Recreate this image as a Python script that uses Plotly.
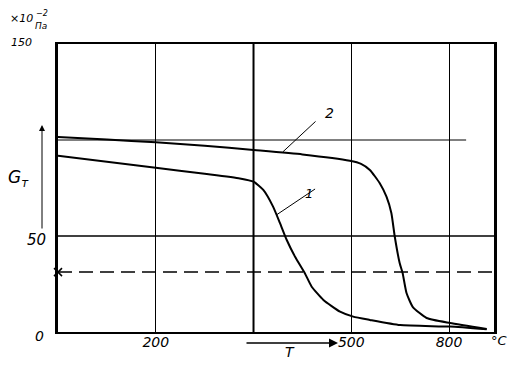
import plotly.graph_objects as go

# ---- data ----
T_curve1 = [0, 200, 300, 372, 400, 420, 440, 454, 468, 485, 505, 519, 543, 577, 604, 638, 700, 802, 877]
G_curve1 = [91.8, 85.6, 82.4, 80.0, 78.3, 74.0, 65.3, 56.8, 47.9, 39.2, 30.6, 23.6, 16.7, 10.6, 8.0, 6.3, 3.6, 2.8, 1.4]

T_curve2 = [0, 100, 200, 300, 400, 500, 597, 620, 638, 658, 672, 682, 689, 699, 705, 713, 726, 754, 802, 877]
G_curve2 = [101.6, 100.2, 98.8, 97.0, 94.8, 92.5, 89.2, 87.6, 84.4, 77.6, 70.5, 62.0, 49.6, 35.9, 30.7, 20.3, 13.0, 7.3, 4.7, 1.6]

dashed_level = 31.2
x_tick_vals = [200, 600, 800]
x_tick_text = ["200", "500", "800"]
curve_labels = ["1", "2"]

# ---- geometry helpers (screen pixel -> paper); page body has an 8px margin ----
W, H = 518, 365
OFF = 8
L, R, TOP, BOT = 58, 24, 44, 33
PW, PH = W - L - R, H - TOP - BOT


def pp(x, y):
    return (x - L) / PW, (H - BOT - y) / PH


FONT = "DejaVu Sans"
fig = go.Figure()

# dashed reference line
fig.add_trace(go.Scatter(x=[0, 892], y=[dashed_level, dashed_level], mode="lines",
                         line=dict(color="black", width=1.5, dash="14px,7px"),
                         hoverinfo="skip", showlegend=False))
fig.add_trace(go.Scatter(x=[0], y=[dashed_level], mode="markers",
                         marker=dict(symbol="x-thin", size=8, line=dict(color="black", width=1.5)),
                         hoverinfo="skip", showlegend=False, cliponaxis=False))

for T, G in ((T_curve1, G_curve1), (T_curve2, G_curve2)):
    fig.add_trace(go.Scatter(x=T, y=G, mode="lines",
                             line=dict(color="black", width=2, shape="spline", smoothing=0.5),
                             hoverinfo="skip", showlegend=False))

shapes = [
    dict(type="line", xref="x", yref="y", x0=0, x1=835, y0=100, y1=100, line=dict(color="black", width=1)),
    dict(type="line", xref="x", yref="y", x0=0, x1=892, y0=50, y1=50, line=dict(color="black", width=1.5)),
    dict(type="line", xref="x", yref="y", x0=400, x1=400, y0=0, y1=150, line=dict(color="black", width=2)),
]

annotations = []


def text(x, y, s, size=14, xanchor="center", yanchor="middle"):
    px_, py_ = pp(x, y)
    annotations.append(dict(x=px_, y=py_, xref="paper", yref="paper", text=s, showarrow=False,
                            xanchor=xanchor, yanchor=yanchor,
                            font=dict(family=FONT, size=size, color="black", style="italic")))


text(34, 43, "150", size=11, xanchor="right")
text(48, 240, "50", size=15, xanchor="right")
text(46, 336, "0", size=14, xanchor="right")
text(499, 340, "°C", size=13)
text(18, 178, "G<sub>т</sub>", size=17)
text(290, 352, "T", size=14)
text(35, 18, "×10", size=11, xanchor="right")
text(34, 13, "−2", size=8, xanchor="left")
text(33, 26, "Па", size=9, xanchor="left")

# curve labels with leader lines
annotations.append(dict(x=460, y=93.8, ax=530, ay=110.4, xref="x", yref="y", axref="x", ayref="y",
                        text="", showarrow=True, arrowhead=0, arrowwidth=1, arrowcolor="black"))
annotations.append(dict(x=447, y=61, ax=529, ay=75, xref="x", yref="y", axref="x", ayref="y",
                        text="", showarrow=True, arrowhead=0, arrowwidth=1, arrowcolor="black"))
annotations.append(dict(x=555, y=114, xref="x", yref="y", text=curve_labels[1], showarrow=False,
                        font=dict(family=FONT, size=14, color="black", style="italic")))
annotations.append(dict(x=514, y=72, xref="x", yref="y", text=curve_labels[0], showarrow=False,
                        font=dict(family=FONT, size=13, color="black", style="italic")))

# arrows: G axis arrow and T arrow
hx, hy = pp(42, 125)
annotations.append(dict(x=hx, y=hy, xref="paper", yref="paper", ax=0, ay=105, text="",
                        showarrow=True, arrowhead=2, arrowsize=1.2, arrowwidth=1, arrowcolor="black"))
tx, ty = pp(338, 343)
annotations.append(dict(x=tx, y=ty, xref="paper", yref="paper", ax=-93, ay=0, text="",
                        showarrow=True, arrowhead=2, arrowsize=1.2, arrowwidth=1.5, arrowcolor="black"))

fig.update_layout(
    width=W - OFF, height=H - OFF,
    margin=dict(l=L - OFF, r=R, t=TOP - OFF, b=BOT, autoexpand=False),
    paper_bgcolor="white", plot_bgcolor="white",
    shapes=shapes, annotations=annotations,
    xaxis=dict(range=[0, 892], showgrid=True, gridcolor="black", gridwidth=1,
               tickvals=x_tick_vals, ticktext=x_tick_text, ticks="", ticklen=0,
               ticklabelstandoff=-4,
               tickfont=dict(family=FONT, size=14, color="black", style="italic"),
               showline=True, linecolor="black", linewidth=1.5, mirror=True, zeroline=False),
    yaxis=dict(range=[0, 150], showgrid=False, showticklabels=False, ticks="",
               showline=True, linecolor="black", linewidth=2.5, mirror=True, zeroline=False),
)

fig.write_html("out.html")
